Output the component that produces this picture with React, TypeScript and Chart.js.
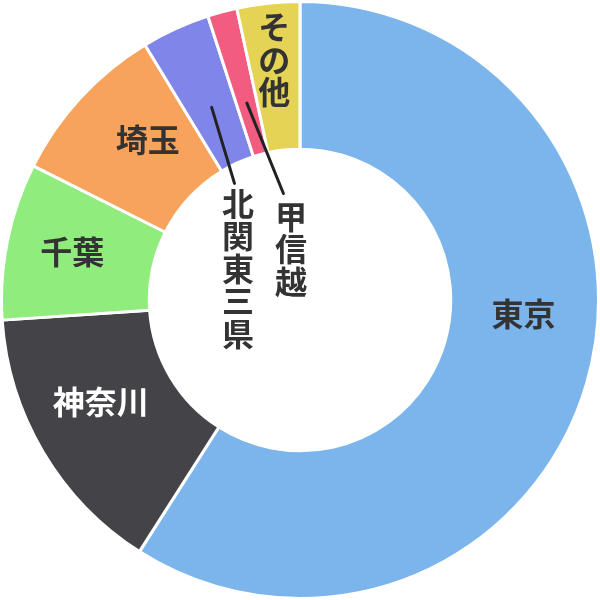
import { useEffect, useRef } from "react"
import { Chart, registerables, Plugin } from "chart.js"

Chart.register(...registerables)

// share by region (%)
const regions = ["東京", "神奈川", "千葉", "埼玉", "北関東三県", "甲信越", "その他"]
const shares = [59.1, 14.9, 8.5, 8.9, 3.7, 1.6, 3.4]
const colors = ["#7cb5ec", "#434348", "#90ed7d", "#f7a35c", "#8085e9", "#f15c80", "#e4d354"]
const labelColors = ["#333333", "#ffffff", "#333333", "#333333", "#333333", "#333333", "#333333"]

// label placement: shift from the slice's mid angle (deg), radius as fraction of outer radius
interface LabelLayout {
  shift: number
  r: number
  vertical?: boolean
  // connector: starts in the slice, ends near the label
  line?: { fromR: number; toShift: number; toR: number }
}
const labelLayout: LabelLayout[] = [
  { shift: -12.7, r: 0.75 },
  { shift: 3.6, r: 0.75 },
  { shift: 0.5, r: 0.78 },
  { shift: 3.7, r: 0.74 },
  { shift: -38.6, r: 0.233, vertical: true, line: { fromR: 0.71, toShift: -4.7, toR: 0.448 } },
  { shift: 5.05, r: 0.173, vertical: true, line: { fromR: 0.683, toShift: 6.25, toR: 0.361 } },
  { shift: 0, r: 0.81, vertical: true },
]

const FONT = 'bold 32px "Noto Sans CJK JP", "Noto Sans", sans-serif'
const PITCH = 32.5

const labelPlugin: Plugin<"doughnut"> = {
  id: "sliceLabels",
  afterDatasetsDraw(chart) {
    const ctx = chart.ctx
    const meta = chart.getDatasetMeta(0)
    const deg = Math.PI / 180
    meta.data.forEach((el, i) => {
      const { x, y, startAngle, endAngle, outerRadius } = (el as any).getProps(
        ["x", "y", "startAngle", "endAngle", "outerRadius"],
        true
      )
      const mid = (startAngle + endAngle) / 2
      const lay = labelLayout[i]
      const at = (a: number, r: number) => [x + Math.cos(a) * r * outerRadius, y + Math.sin(a) * r * outerRadius]

      ctx.save()
      if (lay.line) {
        const [x1, y1] = at(mid, lay.line.fromR)
        const [x2, y2] = at(mid + lay.line.toShift * deg, lay.line.toR)
        ctx.strokeStyle = "#222222"
        ctx.lineWidth = 3
        ctx.lineCap = "round"
        ctx.beginPath()
        ctx.moveTo(x1, y1)
        ctx.lineTo(x2, y2)
        ctx.stroke()
      }
      const [lx, ly] = at(mid + lay.shift * deg, lay.r)
      ctx.font = FONT
      ctx.fillStyle = labelColors[i]
      ctx.textAlign = "center"
      ctx.textBaseline = "middle"
      if (lay.vertical) {
        const chars = Array.from(regions[i])
        chars.forEach((ch, k) => {
          ctx.fillText(ch, lx, ly + (k - (chars.length - 1) / 2) * PITCH)
        })
      } else {
        ctx.fillText(regions[i], lx, ly)
      }
      ctx.restore()
    })
  },
}

export default function App() {
  const canvasRef = useRef<HTMLCanvasElement>(null)
  const chartRef = useRef<Chart<"doughnut"> | null>(null)

  useEffect(() => {
    document.body.style.margin = "0"
    if (!canvasRef.current) return
    if (chartRef.current) chartRef.current.destroy()

    chartRef.current = new Chart(canvasRef.current, {
      type: "doughnut",
      data: {
        labels: regions,
        datasets: [
          {
            data: shares,
            backgroundColor: colors,
            borderColor: "#ffffff",
            borderWidth: 3,
            hoverOffset: 0,
          },
        ],
      },
      options: {
        animation: false,
        responsive: false,
        cutout: "50.5%",
        layout: { padding: -3 },
        plugins: {
          legend: { display: false },
          tooltip: { enabled: false },
        },
        events: [],
      },
      plugins: [labelPlugin],
    })

    return () => {
      chartRef.current?.destroy()
      chartRef.current = null
    }
  }, [])

  return (
    <div style={{ width: 600, height: 600, background: "#ffffff" }}>
      <canvas ref={canvasRef} width={600} height={600} />
    </div>
  )
}
